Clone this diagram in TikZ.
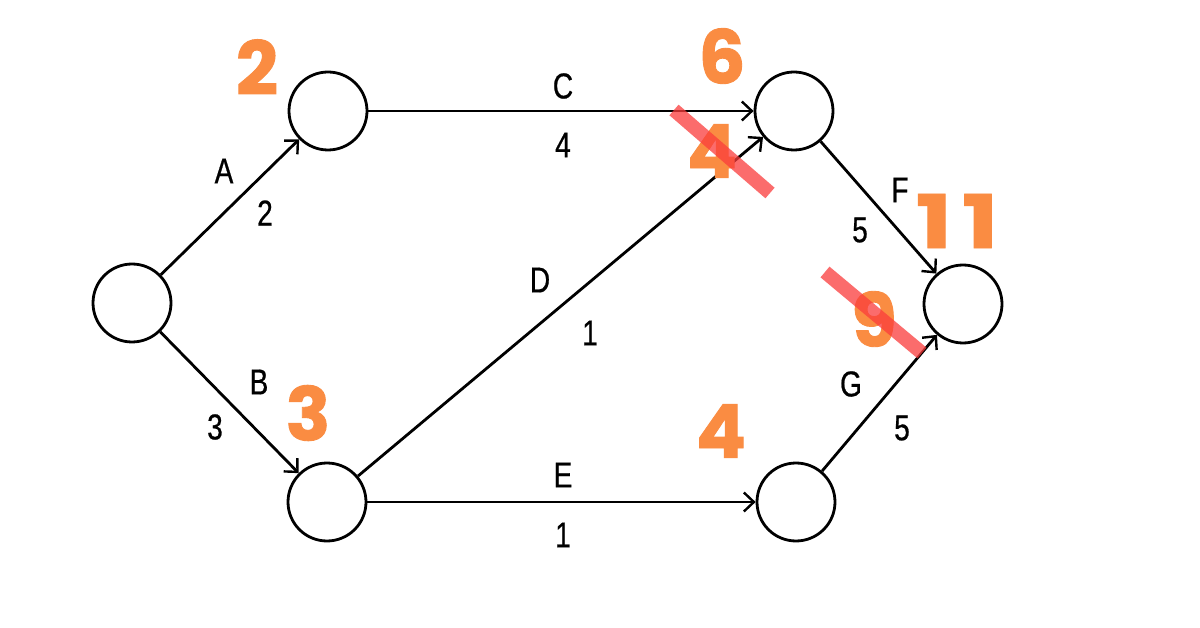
\documentclass[tikz,border=0pt]{standalone}
\usepackage{fontspec}
\usetikzlibrary{arrows.meta}
\newfontfamily\labfont[FakeStretch=0.78,FakeBold=0.6]{Liberation Sans}
\newfontfamily\numfont[FakeBold=1.2]{Poppins}
\definecolor{orng}{RGB}{250,140,66}
\definecolor{strk}{RGB}{250,60,60}
\begin{document}
\begin{tikzpicture}[x=1pt,y=-1pt,
  ev/.style={circle,draw=black,line width=2.8pt,minimum size=78pt,inner sep=0pt},
  act/.style={line width=2.8pt,-{Straight Barb[length=10pt,width=19pt,line width=2.4pt]}},
  lab/.style={inner sep=0pt,font=\labfont\fontsize{36}{36}\selectfont},
  num/.style={inner sep=0pt,text=orng,font=\numfont\bfseries\fontsize{74}{74}\selectfont},
  strike/.style={line width=14pt,draw=strk,draw opacity=0.75}]
\fill[white] (0,0) rectangle (1200,628);
\node[ev] (s) at (132,303) {};
\node[ev] (n2) at (328,111) {};
\node[ev] (n3) at (327,502) {};
\node[ev] (n6) at (794,111) {};
\node[ev] (n4) at (796,502) {};
\node[ev] (t) at (963,304) {};
\draw[act] (s) -- (n2);
\draw[act] (s) -- (n3);
\draw[act] (n2) -- (n6);
\draw[act] (n3) -- (n6);
\draw[act] (n3) -- (n4);
\draw[act] (n6) -- (t);
\draw[act] (n4) -- (t);
\node[lab] (lA) at (224,171) {A};
\node[lab] (wA) at (265,213) {2};
\node[lab] (lB) at (259,382) {B};
\node[lab] (wB) at (215,427) {3};
\node[lab] (lC) at (563,86) {C};
\node[lab] (wC) at (563,145) {4};
\node[lab] (lD) at (540,280) {D};
\node[lab] (wD) at (590,333) {1};
\node[lab] (lE) at (563,475) {E};
\node[lab] (wE) at (563,535) {1};
\node[lab] (lF) at (900,190) {F};
\node[lab] (wF) at (860,230) {5};
\node[lab] (lG) at (851,384) {G};
\node[lab] (wG) at (902,428) {5};
\node[num] (o2) at (257,67) {2};
\node[num] (o3) at (308,413) {3};
\node[num] (o6) at (722,56) {6};
\node[num] (o4a) at (712,151) {4};
\node[num] (o11) at (957,221) {\scalebox{1.3}[1]{1}\kern10pt\scalebox{1.3}[1]{1}};
\node[num] (o9) at (874,319) {9};
\node[num] (o4b) at (721,431) {4};
\coordinate (s1a) at (674,110);
\coordinate (s1b) at (770,193);
\coordinate (s2a) at (825,272);
\coordinate (s2b) at (922,353);
\draw[strike] (s1a) -- (s1b);
\draw[strike] (s2a) -- (s2b);
\end{tikzpicture}
\end{document}
